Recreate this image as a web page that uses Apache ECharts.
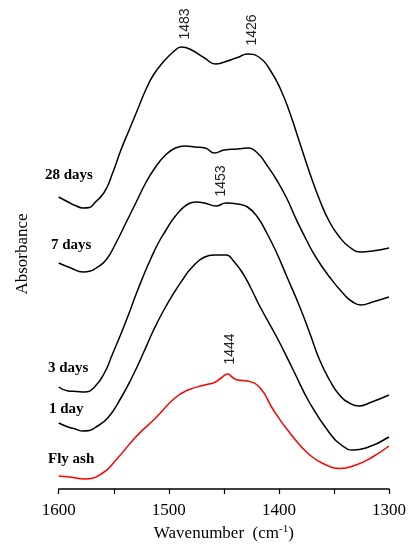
<!DOCTYPE html>
<html>
<head>
<meta charset="utf-8">
<script src="https://cdn.jsdelivr.net/npm/echarts@6/dist/echarts.min.js"></script>
<style>
  html, body { margin: 0; padding: 0; background: #fff; }
  #chart { width: 409px; height: 556px; }
</style>
</head>
<body>
<div id="chart"></div>
<script>
// wavenumber (cm-1) and absorbance (arbitrary, offset) for each spectrum
const wn28 = [1600, 1591.5, 1585, 1578, 1572, 1567.5, 1558.5, 1551, 1543.5, 1536, 1528.5, 1521, 1514, 1505, 1496, 1488.5, 1481, 1467.5, 1457.5, 1449.5, 1437.5, 1428.5, 1417, 1408, 1399, 1390, 1381, 1372, 1363, 1354, 1345, 1336, 1325.5, 1315, 1300]
const abs28 = [2.92, 2.87, 2.835, 2.81, 2.815, 2.86, 2.97, 3.16, 3.39, 3.59, 3.79, 3.99, 4.14, 4.27, 4.37, 4.42, 4.40, 4.31, 4.25, 4.27, 4.315, 4.35, 4.31, 4.19, 4.01, 3.76, 3.46, 3.16, 2.89, 2.67, 2.52, 2.42, 2.37, 2.38, 2.41]

const wn7 = [1600, 1589, 1578, 1571, 1566, 1557, 1548, 1539, 1530, 1521, 1512, 1503, 1494, 1485, 1476, 1467, 1458.5, 1449.5, 1437.5, 1428.5, 1419.5, 1411, 1402, 1393, 1384, 1375, 1366, 1354, 1342, 1333, 1325.5, 1315, 1300]
const abs7 = [2.26, 2.21, 2.17, 2.18, 2.21, 2.29, 2.46, 2.66, 2.86, 3.06, 3.22, 3.34, 3.41, 3.43, 3.42, 3.41, 3.36, 3.39, 3.40, 3.41, 3.36, 3.24, 3.09, 2.91, 2.69, 2.49, 2.31, 2.12, 1.96, 1.87, 1.84, 1.87, 1.92]

const wn3 = [1600, 1591.5, 1584, 1576.5, 1567.5, 1558.5, 1551.5, 1543.5, 1536, 1530, 1523.5, 1516.5, 1509.5, 1503, 1494, 1482.5, 1475, 1467.5, 1457, 1448, 1437.5, 1428.5, 1419.5, 1411, 1402, 1393, 1381, 1372, 1363, 1354, 1345, 1336, 1327, 1318, 1300]
const abs3 = [1.02, 0.98, 0.975, 0.97, 1.02, 1.16, 1.34, 1.55, 1.76, 1.94, 2.12, 2.30, 2.46, 2.58, 2.73, 2.85, 2.87, 2.86, 2.83, 2.86, 2.85, 2.82, 2.72, 2.56, 2.36, 2.13, 1.82, 1.56, 1.29, 1.09, 0.94, 0.86, 0.83, 0.86, 0.94]

const wn1 = [1600, 1591.5, 1585, 1578, 1572, 1567.5, 1555.5, 1543.5, 1531.5, 1522.5, 1514, 1505, 1496, 1487, 1479.5, 1467.5, 1458.5, 1448, 1440.5, 1433, 1425.5, 1417, 1402, 1387, 1372, 1354, 1342, 1333, 1321, 1300]
const abs1 = [0.66, 0.62, 0.60, 0.58, 0.585, 0.61, 0.71, 0.91, 1.16, 1.375, 1.585, 1.78, 1.95, 2.10, 2.21, 2.32, 2.34, 2.34, 2.27, 2.16, 2.01, 1.82, 1.52, 1.19, 0.86, 0.56, 0.43, 0.39, 0.41, 0.52]

const wnFly = [1600, 1590, 1576.5, 1560, 1548, 1530, 1512, 1494.5, 1482.5, 1467.5, 1458.5, 1452.5, 1446.5, 1442, 1437.5, 1428.5, 1417, 1405, 1390, 1372, 1357, 1345, 1330, 1315, 1300]
const absFly = [0.13, 0.12, 0.10, 0.16, 0.29, 0.52, 0.71, 0.91, 0.99, 1.04, 1.065, 1.11, 1.15, 1.115, 1.09, 1.08, 1.01, 0.79, 0.56, 0.34, 0.24, 0.205, 0.24, 0.32, 0.43]

const seriesNames = ['28 days', '7 days', '3 days', '1 day', 'Fly ash']
const peakLabels = ['1483', '1426', '1453', '1444']

const pairs = (xs, ys) => xs.map((x, i) => [x, ys[i]])

const chart = echarts.init(document.getElementById('chart'))

const lineSeries = (name, xs, ys, color) => ({
  name,
  type: 'line',
  data: pairs(xs, ys),
  smooth: 0.5,
  showSymbol: false,
  lineStyle: { color, width: 1.5 },
})

const curveLabel = (text, x, y) => ({
  type: 'text',
  left: x,
  top: y,
  style: {
    text,
    font: 'bold 15px "Liberation Serif", "Times New Roman", serif',
    fill: '#000',
  },
})

const peakLabel = (text, cx, cy) => ({
  type: 'text',
  x: cx,
  y: cy,
  rotation: Math.PI / 2,
  style: {
    text,
    font: '14px "Liberation Sans", Arial, sans-serif',
    fill: '#222',
    align: 'center',
    verticalAlign: 'middle',
  },
})

chart.setOption({
  animation: false,
  grid: { left: 58.7, right: 15.3, top: 19, bottom: 67 },
  xAxis: {
    type: 'value',
    inverse: true,
    min: 1300,
    max: 1600,
    interval: 50,
    name: 'Wavenumber  (cm{sup|-1})',
    nameLocation: 'middle',
    nameGap: 34,
    nameTextStyle: {
      fontFamily: '"Liberation Serif", "Times New Roman", serif',
      fontSize: 17,
      color: '#000',
      rich: {
        sup: {
          fontFamily: '"Liberation Serif", "Times New Roman", serif',
          fontSize: 11,
          color: '#000',
          verticalAlign: 'top',
          padding: [0, 0, 8, 0],
        },
      },
    },
    axisLine: { lineStyle: { color: '#000', width: 1.5 } },
    axisTick: { show: true, inside: false, length: 5, lineStyle: { color: '#000', width: 1.2 } },
    axisLabel: {
      margin: 13,
      color: '#000',
      fontFamily: '"Liberation Serif", "Times New Roman", serif',
      fontSize: 17,
      formatter: (v) => (v % 100 === 0 ? String(v) : ''),
    },
    splitLine: { show: false },
  },
  yAxis: {
    type: 'value',
    min: 0,
    max: 4.7,
    name: 'Absorbance',
    nameLocation: 'middle',
    nameRotate: 90,
    nameGap: 28,
    nameTextStyle: {
      fontFamily: '"Liberation Serif", "Times New Roman", serif',
      fontSize: 17,
      color: '#000',
    },
    axisLine: { show: false },
    axisTick: { show: false },
    axisLabel: { show: false },
    splitLine: { show: false },
  },
  series: [
    lineSeries(seriesNames[0], wn28, abs28, '#000'),
    lineSeries(seriesNames[1], wn7, abs7, '#000'),
    lineSeries(seriesNames[2], wn3, abs3, '#000'),
    lineSeries(seriesNames[3], wn1, abs1, '#000'),
    lineSeries(seriesNames[4], wnFly, absFly, '#ff0000'),
  ],
  graphic: [
    curveLabel(seriesNames[0], 45, 168),
    curveLabel(seriesNames[1], 51, 238),
    curveLabel(seriesNames[2], 48, 361),
    curveLabel(seriesNames[3], 49, 402),
    curveLabel(seriesNames[4], 48, 452),
    peakLabel(peakLabels[0], 185, 24),
    peakLabel(peakLabels[1], 252, 30),
    peakLabel(peakLabels[2], 221.5, 181),
    peakLabel(peakLabels[3], 230, 349),
  ],
})
</script>
</body>
</html>
